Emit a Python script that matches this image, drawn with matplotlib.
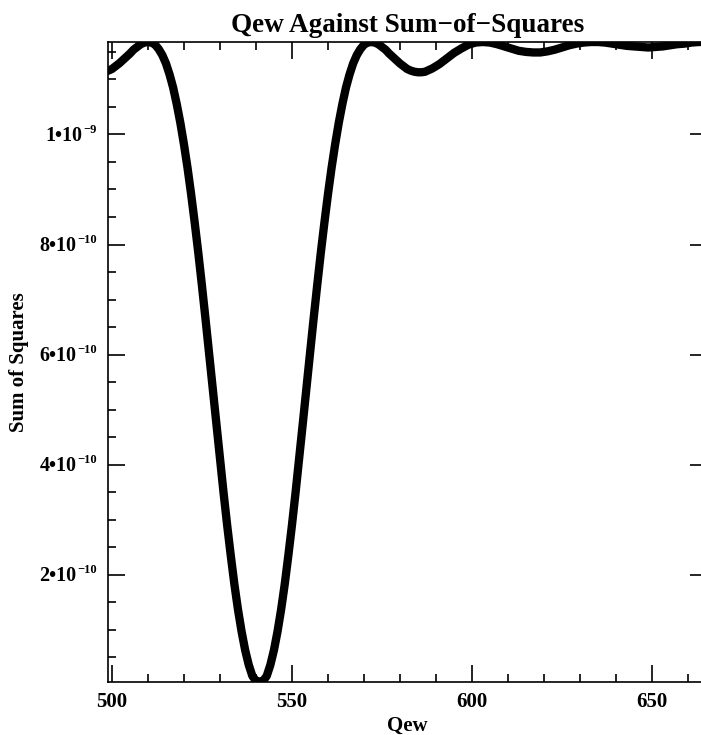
import matplotlib
matplotlib.use('Agg')
import matplotlib.pyplot as plt
import numpy as np
from matplotlib.ticker import MultipleLocator, FixedLocator

plt.rcParams['font.family'] = 'Liberation Serif'
plt.rcParams['font.weight'] = 'bold'

# Qew grid: every unit over the main dip, every 2 units after it
qew = np.r_[498:587, 587:666:2]
# sum of squares in units of 1e-10
ss_e10 = [
    11.14, 11.16, 11.19, 11.24, 11.29, 11.35, 11.41, 11.47, 11.54, 11.59,
    11.64, 11.67, 11.68, 11.67, 11.63, 11.55, 11.44, 11.29, 11.09, 10.85,
    10.55, 10.21, 9.82, 9.39, 8.91, 8.39, 7.84, 7.25, 6.64, 6.01,
    5.38, 4.74, 4.11, 3.49, 2.90, 2.35, 1.83, 1.37, 0.97, 0.63,
    0.36, 0.16, 0.07, 0.05, 0.07, 0.16, 0.36, 0.63, 0.97, 1.37,
    1.83, 2.35, 2.90, 3.49, 4.11, 4.74, 5.38, 6.01, 6.64, 7.25,
    7.84, 8.39, 8.91, 9.39, 9.82, 10.21, 10.55, 10.85, 11.09, 11.29,
    11.44, 11.55, 11.63, 11.67, 11.68, 11.67, 11.64, 11.59, 11.54, 11.47,
    11.41, 11.35, 11.29, 11.24, 11.19, 11.16, 11.14, 11.13, 11.13,
    11.14, 11.20, 11.28, 11.38, 11.48, 11.56, 11.63, 11.67, 11.68, 11.67,
    11.64, 11.60, 11.56, 11.52, 11.50, 11.49, 11.49, 11.51, 11.54, 11.58,
    11.62, 11.65, 11.67, 11.68, 11.68, 11.67, 11.65, 11.63, 11.61, 11.60,
    11.59, 11.58, 11.59, 11.60, 11.62, 11.64, 11.65, 11.67, 11.68, 11.68,
]
ss = np.array(ss_e10) * 1e-10

ytick_vals = [2e-10, 4e-10, 6e-10, 8e-10, 1e-9]
ytick_mant = ['2•10', '4•10', '6•10', '8•10', '1•10']
ytick_exp = ['−10', '−10', '−10', '−10', '−9']

W, H = 701, 735
fig = plt.figure(figsize=(W / 100, H / 100), dpi=100)
ax = fig.add_axes([108 / W, 1 - 682 / H, 599 / W, 640 / H])

ax.plot(qew, ss, color='black', lw=6, solid_joinstyle='round')

ax.set_xlim(498.9, 665.3)
ax.set_ylim(ss.min(), ss.max())

ax.xaxis.set_major_locator(MultipleLocator(50))
ax.xaxis.set_minor_locator(MultipleLocator(10))
ax.yaxis.set_major_locator(FixedLocator(ytick_vals))
ax.yaxis.set_minor_locator(MultipleLocator(0.5e-10))

ax.tick_params(which='both', direction='in', top=True, right=True,
               width=1.2, labelsize=15, labelleft=False)
ax.tick_params(which='major', length=12, pad=7)
ax.tick_params(which='minor', length=6)
ax.tick_params(axis='y', which='minor', right=False)
for s in ax.spines.values():
    s.set_linewidth(1.2)

# y tick labels: mantissa with a raised, smaller exponent
ytr = ax.get_yaxis_transform()
for v, m, e in zip(ytick_vals, ytick_mant, ytick_exp):
    sup = ax.annotate(e, xy=(0, v), xycoords=ytr, xytext=(-8, 1),
                      textcoords='offset points', ha='right', va='baseline',
                      fontsize=9)
    ax.annotate(m, xy=(0, v), xycoords=(sup, ytr), xytext=(-0.5, -4.8),
                textcoords='offset points', ha='right', va='baseline',
                fontsize=14.5)

fig.text(407.5 / W, 1 - 32 / H, 'Qew Against Sum−of−Squares',
         ha='center', va='baseline', fontsize=19.5)
fig.text(407.5 / W, 1 - 731 / H, 'Qew', ha='center', va='baseline',
         fontsize=15)
fig.text(19 / W, 1 - 362 / H, 'Sum of Squares', ha='center', va='center',
         rotation=90, fontsize=15)

fig.savefig('out.png', dpi=100)
